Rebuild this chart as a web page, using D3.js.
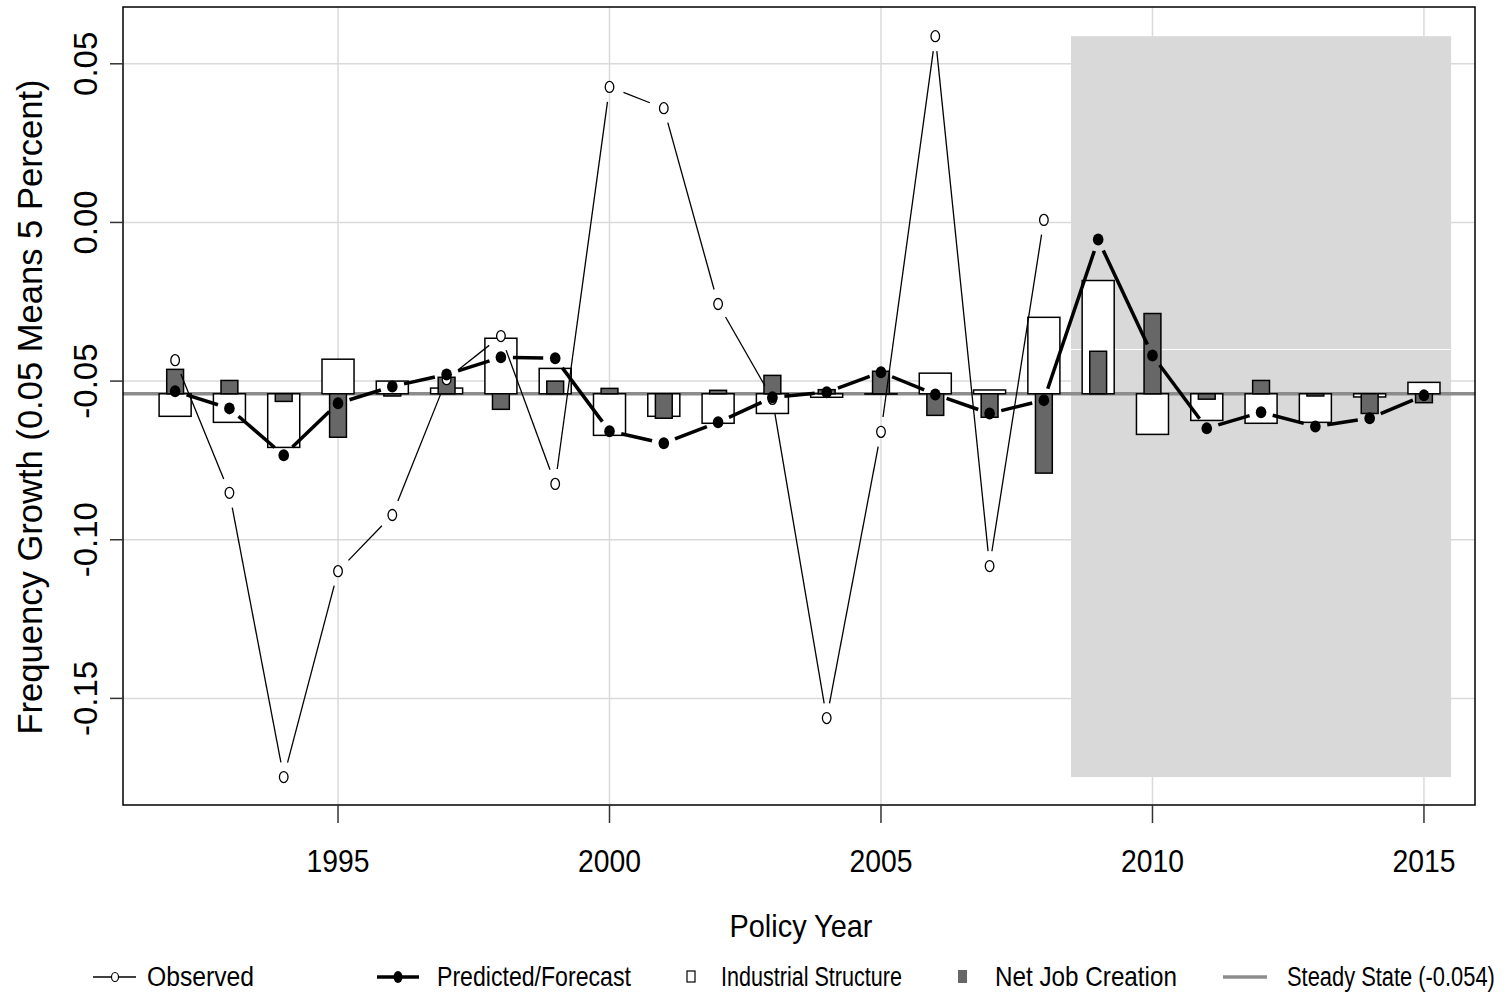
<!DOCTYPE html>
<html>
<head>
<meta charset="utf-8">
<script src="https://cdn.jsdelivr.net/npm/d3@7"></script>
<style>
	body { margin: 0; background: #fff; }
	svg { display: block; font-family: "Liberation Sans", Arial, sans-serif; }
</style>
</head>
<body>
<svg id="chart" width="1512" height="995"></svg>
<script>
// ---- data ----
const years = [1992, 1993, 1994, 1995, 1996, 1997, 1998, 1999, 2000, 2001, 2002, 2003,
	2004, 2005, 2006, 2007, 2008, 2009, 2010, 2011, 2012, 2013, 2014, 2015];

// observed stops in 2008, the rest is forecast
const observed = [-0.0434, -0.0852, -0.1748, -0.1099, -0.0922, -0.0494, -0.0358, -0.0824,
	0.0427, 0.0360, -0.0257, -0.0556, -0.1562, -0.0660, 0.0587, -0.1083, 0.0008,
	null, null, null, null, null, null, null];

const predicted = [-0.0532, -0.0586, -0.0734, -0.0570, -0.0517, -0.0479, -0.0425, -0.0428,
	-0.0658, -0.0696, -0.0630, -0.0551, -0.0535, -0.0472, -0.0542, -0.0602, -0.0560,
	-0.0054, -0.0419, -0.0649, -0.0598, -0.0643, -0.0617, -0.0545];

const industrialStructure = [-0.0611, -0.0630, -0.0709, -0.0431, -0.0500, -0.0522, -0.0365, -0.0460,
	-0.0671, -0.0611, -0.0633, -0.0602, -0.0551, -0.0541, -0.0475, -0.0528, -0.0299,
	-0.0183, -0.0668, -0.0624, -0.0633, -0.0630, -0.0550, -0.0504];

const netJobCreation = [-0.0463, -0.0498, -0.0564, -0.0677, -0.0547, -0.0488, -0.0589, -0.0500,
	-0.0523, -0.0617, -0.0529, -0.0482, -0.0527, -0.0469, -0.0608, -0.0614, -0.0790,
	-0.0406, -0.0287, -0.0557, -0.0498, -0.0547, -0.0602, -0.0568];

const steadyState = -0.054;
const forecastSpan = [2008.5, 2015.5];
const xTicks = [1995, 2000, 2005, 2010, 2015];
const yTicks = [0.05, 0.00, -0.05, -0.10, -0.15];
const legendLabels = ["Observed", "Predicted/Forecast", "Industrial Structure", "Net Job Creation", "Steady State (-0.054)"];

// ---- layout ----
const plotLeft = 123, plotRight = 1475, plotTop = 7, plotBottom = 805;
const svg = d3.select("#chart");

const x = d3.scaleLinear().domain([1991.04, 2015.94]).range([plotLeft, plotRight]);
const y = d3.scaleLinear().domain([-0.1836, 0.0679]).range([plotBottom, plotTop]);

//-----------------------------------
// squeeze a horizontal text to a given width (the original type is condensed)
function squeeze(sel, tx, ty, width, anchor) {
	sel.each(function () {
		let w = this.getComputedTextLength(), s = width / w;
		let x0 = anchor === "middle" ? tx - width / 2 : tx;
		d3.select(this)
			.attr("x", 0).attr("y", 0)
			.attr("text-anchor", "start")
			.attr("transform", "translate(" + x0 + "," + ty + ") scale(" + s + ",1)");
	});
}

//-----------------------------------
// forecast shading, spans the observed range
const obsExtent = d3.extent(observed.filter(v => v !== null));
svg.append("rect")
	.attr("x", x(forecastSpan[0]))
	.attr("y", y(obsExtent[1]))
	.attr("width", x(forecastSpan[1]) - x(forecastSpan[0]))
	.attr("height", y(obsExtent[0]) - y(obsExtent[1]))
	.attr("fill", "#d9d9d9");

//-----------------------------------
// grid
svg.append("g").selectAll("line").data(xTicks).join("line")
	.attr("x1", d => x(d)).attr("x2", d => x(d))
	.attr("y1", plotTop).attr("y2", plotBottom)
	.attr("stroke", "#dadada").attr("stroke-width", 1.5);
svg.append("g").selectAll("line").data(yTicks).join("line")
	.attr("x1", plotLeft).attr("x2", plotRight)
	.attr("y1", d => y(d)).attr("y2", d => y(d))
	.attr("stroke", "#dadada").attr("stroke-width", 1.5);

// seam in the shaded polygon
svg.append("line")
	.attr("x1", x(forecastSpan[0])).attr("x2", x(forecastSpan[1]))
	.attr("y1", Math.round(y(-0.04)) + 0.5).attr("y2", Math.round(y(-0.04)) + 0.5)
	.attr("stroke", "#fff").attr("stroke-width", 1);

//-----------------------------------
// steady state line
svg.append("line")
	.attr("x1", plotLeft).attr("x2", plotRight)
	.attr("y1", y(steadyState)).attr("y2", y(steadyState))
	.attr("stroke", "#8c8c8c").attr("stroke-width", 3.5);

//-----------------------------------
// bars hang from the steady state
function drawBars(values, barWidth, fill) {
	svg.append("g").selectAll("rect").data(years).join("rect")
		.attr("x", d => x(d - barWidth / 2))
		.attr("width", x(barWidth) - x(0))
		.attr("y", (d, i) => y(Math.max(values[i], steadyState)))
		.attr("height", (d, i) => Math.abs(y(values[i]) - y(steadyState)))
		.attr("fill", fill)
		.attr("stroke", "#000")
		.attr("stroke-width", 1.5);
}
drawBars(industrialStructure, 0.59, "#fff");
drawBars(netJobCreation, 0.31, "#676767");

//-----------------------------------
// line with gaps round the points (like type = "b")
function drawGapLine(values, gap, width) {
	let pts = [], segs = [], i;
	for (i = 0; i < years.length; i++)
		if (values[i] !== null) pts.push([x(years[i]), y(values[i])]);
	for (i = 0; i < pts.length - 1; i++) {
		let dx = pts[i + 1][0] - pts[i][0], dy = pts[i + 1][1] - pts[i][1];
		let len = Math.sqrt(dx * dx + dy * dy);
		if (len <= 2 * gap) continue;
		let ux = dx / len, uy = dy / len;
		segs.push([pts[i][0] + ux * gap, pts[i][1] + uy * gap, pts[i + 1][0] - ux * gap, pts[i + 1][1] - uy * gap]);
	}
	svg.append("g").selectAll("line").data(segs).join("line")
		.attr("x1", d => d[0]).attr("y1", d => d[1])
		.attr("x2", d => d[2]).attr("y2", d => d[3])
		.attr("stroke", "#000").attr("stroke-width", width);
	return pts;
}

let obsPts = drawGapLine(observed, 15, 1.3);
svg.append("g").selectAll("ellipse").data(obsPts).join("ellipse")
	.attr("cx", d => d[0]).attr("cy", d => d[1])
	.attr("rx", 4.3).attr("ry", 5.5)
	.attr("fill", "#fff").attr("stroke", "#000").attr("stroke-width", 1.3);

let predPts = drawGapLine(predicted, 12, 3.5);
svg.append("g").selectAll("ellipse").data(predPts).join("ellipse")
	.attr("cx", d => d[0]).attr("cy", d => d[1])
	.attr("rx", 5.3).attr("ry", 6)
	.attr("fill", "#000");

//-----------------------------------
// frame and axes
svg.append("rect")
	.attr("x", plotLeft).attr("y", plotTop)
	.attr("width", plotRight - plotLeft).attr("height", plotBottom - plotTop)
	.attr("fill", "none").attr("stroke", "#000").attr("stroke-width", 1.5);

svg.append("g").selectAll("line").data(xTicks).join("line")
	.attr("x1", d => x(d)).attr("x2", d => x(d))
	.attr("y1", plotBottom).attr("y2", plotBottom + 18)
	.attr("stroke", "#333").attr("stroke-width", 1.5);
svg.append("g").selectAll("text").data(xTicks).join("text")
	.attr("font-size", 32)
	.text(d => d)
	.each(function (d) { squeeze(d3.select(this), x(d), 872, 63, "middle"); });

svg.append("g").selectAll("line").data(yTicks).join("line")
	.attr("x1", plotLeft - 13).attr("x2", plotLeft)
	.attr("y1", d => y(d)).attr("y2", d => y(d))
	.attr("stroke", "#333").attr("stroke-width", 1.5);
svg.append("g").selectAll("text").data(yTicks).join("text")
	.attr("transform", d => "translate(97," + y(d) + ") rotate(-90)")
	.attr("text-anchor", "middle")
	.attr("font-size", 33)
	.text(d => d.toFixed(2));

svg.append("text")
	.attr("font-size", 32)
	.text("Policy Year")
	.call(squeeze, 801, 937, 143, "middle");

svg.append("text")
	.attr("transform", "translate(42," + ((plotTop + plotBottom) / 2 + 1) + ") rotate(-90)")
	.attr("text-anchor", "middle")
	.attr("font-size", 35)
	.attr("textLength", 655).attr("lengthAdjust", "spacingAndGlyphs")
	.text("Frequency Growth (0.05 Means 5 Percent)");

//-----------------------------------
// legend
const legY = 977;
const legTextX = [147, 437, 721, 995, 1287];
const legTextW = [107, 194, 181, 182, 208];
let leg = svg.append("g");

leg.append("line").attr("x1", 93).attr("x2", 136).attr("y1", legY).attr("y2", legY)
	.attr("stroke", "#000").attr("stroke-width", 1.3);
leg.append("ellipse").attr("cx", 115).attr("cy", legY).attr("rx", 3.5).attr("ry", 4.5)
	.attr("fill", "#fff").attr("stroke", "#000").attr("stroke-width", 1.2);

leg.append("line").attr("x1", 377).attr("x2", 419).attr("y1", legY).attr("y2", legY)
	.attr("stroke", "#000").attr("stroke-width", 3.5);
leg.append("ellipse").attr("cx", 398).attr("cy", legY).attr("rx", 4.5).attr("ry", 6)
	.attr("fill", "#000");

leg.append("rect").attr("x", 687).attr("y", legY - 6).attr("width", 8).attr("height", 11)
	.attr("fill", "#fff").attr("stroke", "#000").attr("stroke-width", 1.2);

leg.append("rect").attr("x", 958).attr("y", legY - 7).attr("width", 9).attr("height", 13)
	.attr("fill", "#676767");

leg.append("line").attr("x1", 1223).attr("x2", 1267).attr("y1", legY).attr("y2", legY)
	.attr("stroke", "#8c8c8c").attr("stroke-width", 3.5);

leg.selectAll("text").data(legendLabels).join("text")
	.attr("font-size", 28)
	.text(d => d)
	.each(function (d, i) { squeeze(d3.select(this), legTextX[i], legY + 9, legTextW[i], "start"); });
</script>
</body>
</html>
